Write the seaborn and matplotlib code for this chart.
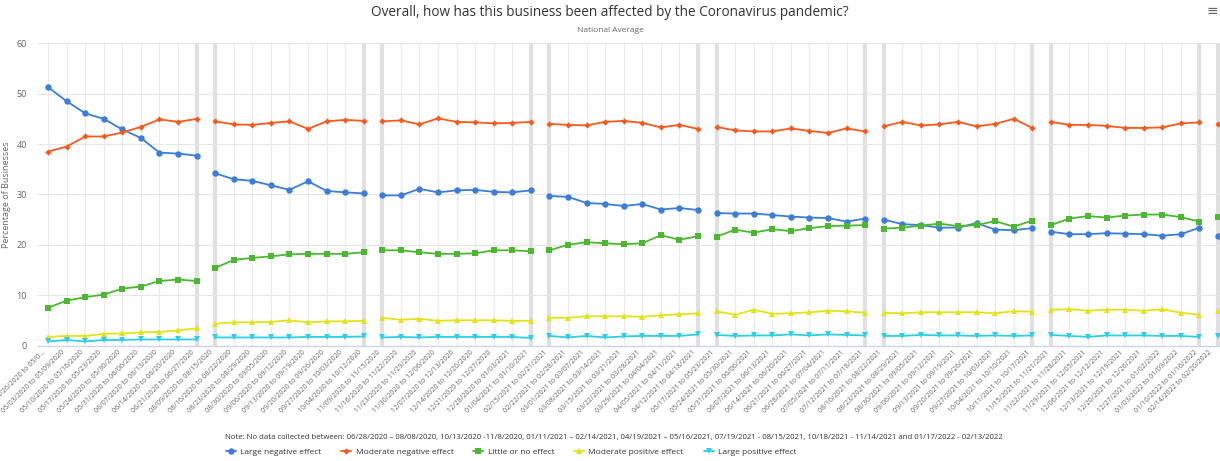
import numpy as np
import pandas as pd
import matplotlib
matplotlib.use("Agg")
import matplotlib.pyplot as plt
import matplotlib.transforms as mtransforms
from matplotlib.lines import Line2D
import seaborn as sns

# ----- data -----
periods = [
    "04/26/2020 to 05/0...", "05/03/2020 to 05/09/2020", "05/10/2020 to 05/16/2020", "05/17/2020 to 05/23/2020",
    "05/24/2020 to 05/30/2020", "05/31/2020 to 06/06/2020", "06/07/2020 to 06/13/2020", "06/14/2020 to 06/20/2020",
    "06/21/2020 to 06/27/2020",
    "08/09/2020 to 08/15/2020", "08/16/2020 to 08/22/2020", "08/23/2020 to 08/29/2020", "08/30/2020 to 09/05/2020",
    "09/06/2020 to 09/12/2020", "09/13/2020 to 09/19/2020", "09/20/2020 to 09/26/2020", "09/27/2020 to 10/03/2020",
    "10/04/2020 to 10/12/2020",
    "11/09/2020 to 11/15/2020", "11/16/2020 to 11/22/2020", "11/23/2020 to 11/29/2020", "11/30/2020 to 12/06/2020",
    "12/07/2020 to 12/13/2020", "12/14/2020 to 12/20/2020", "12/21/2020 to 12/27/2020", "12/28/2020 to 01/03/2021",
    "01/04/2021 to 01/10/2021",
    "02/15/2021 to 02/21/2021", "02/22/2021 to 02/28/2021", "03/01/2021 to 03/07/2021", "03/08/2021 to 03/14/2021",
    "03/15/2021 to 03/21/2021", "03/22/2021 to 03/28/2021", "03/29/2021 to 04/04/2021", "04/05/2021 to 04/11/2021",
    "04/12/2021 to 04/18/2021",
    "05/17/2021 to 05/23/2021", "05/24/2021 to 05/30/2021", "05/31/2021 to 06/06/2021", "06/07/2021 to 06/13/2021",
    "06/14/2021 to 06/20/2021", "06/21/2021 to 06/27/2021", "06/28/2021 to 07/04/2021", "07/05/2021 to 07/11/2021",
    "07/12/2021 to 07/18/2021",
    "08/16/2021 to 08/22/2021", "08/23/2021 to 08/29/2021", "08/30/2021 to 09/05/2021", "09/06/2021 to 09/12/2021",
    "09/13/2021 to 09/19/2021", "09/20/2021 to 09/26/2021", "09/27/2021 to 10/03/2021", "10/04/2021 to 10/10/2021",
    "10/11/2021 to 10/17/2021",
    "11/15/2021 to 11/21/2021", "11/22/2021 to 11/28/2021", "11/29/2021 to 12/05/2021", "12/06/2021 to 12/12/2021",
    "12/13/2021 to 12/19/2021", "12/20/2021 to 12/26/2021", "12/27/2021 to 01/02/2022", "01/03/2022 to 01/09/2022",
    "01/10/2022 to 01/16/2022",
    "02/14/2022 to 02/20/2022",
]
# number of weekly periods in each collection window (no data between windows)
segment_sizes = [9, 9, 9, 9, 9, 9, 9, 1]

large_negative = [
    51.3, 48.5, 46.1, 45.0, 42.9, 41.2, 38.3, 38.1, 37.7,
    34.2, 33.0, 32.7, 31.8, 30.9, 32.6, 30.7, 30.4, 30.2,
    29.8, 29.8, 31.1, 30.4, 30.8, 30.9, 30.5, 30.4, 30.8,
    29.7, 29.5, 28.3, 28.1, 27.7, 28.1, 27.0, 27.3, 26.9,
    26.3, 26.2, 26.2, 25.9, 25.6, 25.4, 25.3, 24.6, 25.2,
    25.0, 24.1, 23.9, 23.4, 23.4, 24.3, 23.0, 22.9, 23.3,
    22.6, 22.1, 22.1, 22.3, 22.2, 22.1, 21.8, 22.1, 23.4,
    21.7,
]
moderate_negative = [
    38.5, 39.5, 41.5, 41.5, 42.3, 43.4, 44.9, 44.4, 45.0,
    44.5, 43.9, 43.8, 44.2, 44.5, 43.0, 44.5, 44.8, 44.6,
    44.5, 44.7, 43.9, 45.1, 44.4, 44.3, 44.1, 44.2, 44.4,
    44.0, 43.8, 43.7, 44.4, 44.6, 44.2, 43.3, 43.8, 43.0,
    43.4, 42.7, 42.5, 42.5, 43.1, 42.6, 42.2, 43.1, 42.5,
    43.5, 44.4, 43.7, 43.9, 44.4, 43.5, 44.0, 45.0, 43.2,
    44.4, 43.8, 43.8, 43.6, 43.2, 43.2, 43.3, 44.1, 44.3,
    44.0,
]
little_or_no = [
    7.5, 8.9, 9.6, 10.1, 11.3, 11.7, 12.8, 13.1, 12.8,
    15.4, 17.0, 17.4, 17.7, 18.1, 18.2, 18.2, 18.2, 18.5,
    18.9, 18.9, 18.5, 18.2, 18.2, 18.3, 18.9, 18.9, 18.7,
    18.9, 20.0, 20.5, 20.3, 20.1, 20.3, 21.9, 21.0, 21.7,
    21.6, 23.0, 22.4, 23.1, 22.7, 23.3, 23.7, 23.8, 23.9,
    23.2, 23.4, 23.8, 24.2, 23.7, 23.9, 24.7, 23.6, 24.8,
    23.9, 25.2, 25.7, 25.4, 25.8, 26.0, 26.0, 25.5, 24.6,
    25.5,
]
moderate_positive = [
    1.7, 1.9, 1.9, 2.3, 2.4, 2.6, 2.7, 3.0, 3.4,
    4.3, 4.6, 4.6, 4.7, 5.0, 4.6, 4.8, 4.8, 4.9,
    5.5, 5.1, 5.3, 4.9, 5.0, 5.0, 5.0, 4.9, 4.9,
    5.5, 5.5, 5.8, 5.8, 5.8, 5.7, 6.0, 6.2, 6.4,
    6.8, 6.1, 7.1, 6.3, 6.4, 6.6, 6.9, 6.8, 6.5,
    6.5, 6.4, 6.6, 6.6, 6.6, 6.6, 6.4, 6.8, 6.7,
    7.1, 7.2, 6.9, 7.1, 7.1, 6.9, 7.2, 6.5, 6.1,
    6.9,
]
large_positive = [
    0.8, 1.1, 0.8, 1.1, 1.1, 1.2, 1.2, 1.2, 1.2,
    1.6, 1.6, 1.6, 1.6, 1.6, 1.7, 1.7, 1.7, 1.8,
    1.6, 1.7, 1.6, 1.7, 1.7, 1.7, 1.7, 1.7, 1.5,
    1.9, 1.6, 1.9, 1.6, 1.8, 1.9, 1.9, 1.9, 2.2,
    2.1, 1.9, 2.0, 2.0, 2.2, 2.0, 2.2, 2.1, 2.0,
    1.9, 1.9, 2.1, 2.0, 2.0, 1.9, 2.0, 1.9, 2.0,
    2.1, 1.9, 1.7, 2.0, 2.0, 2.0, 1.9, 1.9, 1.7,
    1.9,
]

series_names = ["Large negative effect", "Moderate negative effect", "Little or no effect",
                "Moderate positive effect", "Large positive effect"]
series_values = [large_negative, moderate_negative, little_or_no, moderate_positive, large_positive]
colors = ["#3b7dd8", "#f85a1e", "#4cb832", "#e3e31c", "#2fcde6"]
markers = ["o", "D", "s", "^", "v"]
msizes = [4.6, 3.2, 4.4, 4.6, 4.6]

note = ("Note: No data collected between: 06/28/2020 \u2013 08/08/2020, 10/13/2020 -11/8/2020, "
        "01/11/2021 \u2013 02/14/2021, 04/19/2021 \u2013 05/16/2021, 07/19/2021 - 08/15/2021, "
        "10/18/2021 - 11/14/2021 and 01/17/2022 - 02/13/2022")


def main():
    sns.set_style("white")
    plt.rcParams["font.family"] = ["Open Sans", "DejaVu Sans"]

    seg_id = np.repeat(np.arange(len(segment_sizes)), segment_sizes)
    pos = np.arange(len(periods))

    W, H = 1220, 461
    fig = plt.figure(figsize=(W / 100, H / 100), dpi=100)
    ax = fig.add_axes([38 / W, (H - 345.5) / H, (W - 38) / W, (345.5 - 43.3) / H])

    # grid
    for p in pos:
        ax.axvline(p, color="#ebebeb", lw=0.8, zorder=0)
    ends = np.cumsum(segment_sizes)
    for e in ends[:-1]:
        ax.axvline(e - 1, color="#e0e0e0", lw=3, zorder=0.5)
        ax.axvline(e, color="#e0e0e0", lw=3, zorder=0.5)
    ax.set_yticks(range(0, 61, 10))
    ax.yaxis.grid(True, color="#e6e6e6", lw=0.8)
    ax.set_axisbelow(True)

    handles = []
    for name, vals, c, m, ms in zip(series_names, series_values, colors, markers, msizes):
        df = pd.DataFrame({"pos": pos, "value": vals, "segment": seg_id})
        sns.lineplot(data=df, x="pos", y="value", units="segment", estimator=None,
                     color=c, marker=m, markersize=ms, markeredgewidth=0, lw=1.3,
                     legend=False, ax=ax, zorder=3)
        handles.append(Line2D([], [], color=c, marker=m, markersize=ms, markeredgewidth=0, lw=1.3))

    ax.set_xlim(-0.54, len(periods) - 1 + 0.11)
    ax.set_ylim(0, 60)
    ax.set_xticks(pos)
    ax.set_xticklabels([])
    # rotated period labels, end of text at the tick (last one nudged in from the edge)
    for i, (p, lab) in enumerate(zip(pos, periods)):
        dx = -7 if i == len(periods) - 1 else -3
        off = mtransforms.ScaledTranslation(dx / 100, -6 / 100, fig.dpi_scale_trans)
        ax.text(p, 0, lab, transform=ax.get_xaxis_transform() + off, rotation=45,
                ha="right", va="center", rotation_mode="anchor", fontsize=5, color="#666666")
    ax.tick_params(axis="both", length=0)
    ax.tick_params(axis="y", labelsize=6.5, labelcolor="#666666", pad=8)
    ax.set_xlabel("")
    ax.set_ylabel("Percentage of Businesses", fontsize=6.5, color="#666666", labelpad=4)
    for s in ["top", "right", "left"]:
        ax.spines[s].set_visible(False)
    ax.spines["bottom"].set_color("#ccd6eb")
    ax.spines["bottom"].set_linewidth(1)

    fig.text(0.5, 1 - 12 / H, "Overall, how has this business been affected by the Coronavirus pandemic?",
             ha="center", va="center", fontsize=9.8, color="#333333")
    fig.text(0.5, 1 - 30 / H, "National Average", ha="center", va="center", fontsize=6, color="#666666")
    fig.text(1212 / W, 1 - 12 / H, "\u2261", ha="center", va="center", fontsize=10, color="#666666")
    fig.text(225 / W, 1 - 437 / H, note, ha="left", va="center", fontsize=5.6, color="#333333")

    fig.legend(handles, series_names, loc="center left", bbox_to_anchor=(226 / W, 1 - 452 / H),
               ncol=5, frameon=False, fontsize=6, handlelength=1.2, handletextpad=0.5,
               columnspacing=2.4, borderaxespad=0, borderpad=0, labelcolor="#333333")

    fig.savefig("out.png", dpi=100)


if __name__ == "__main__":
    main()
